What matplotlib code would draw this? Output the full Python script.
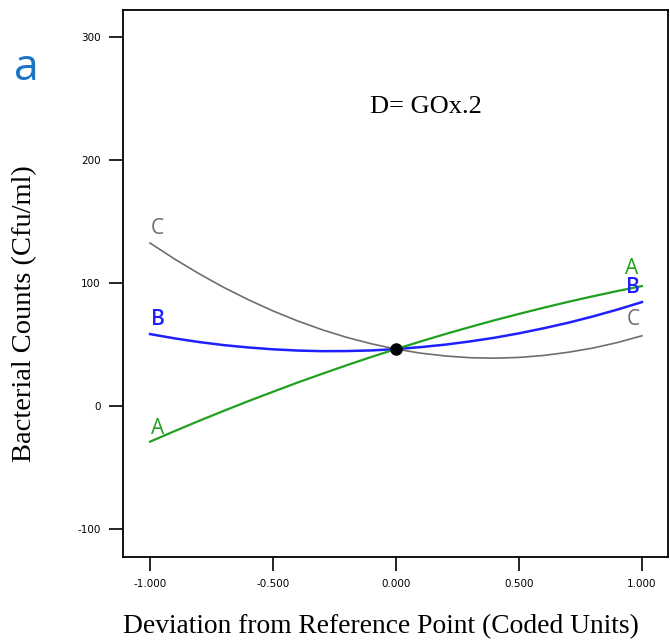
import matplotlib
matplotlib.use('Agg')
import matplotlib.pyplot as plt

plt.rcParams['axes.unicode_minus'] = False

# écart par rapport au point de référence (unités codées)
deviation = [-1.0, -0.9, -0.8, -0.7, -0.6, -0.5, -0.4, -0.3, -0.2, -0.1, 0.0,
             0.1, 0.2, 0.3, 0.4, 0.5, 0.6, 0.7, 0.8, 0.9, 1.0]

# comptages bactériens pour chaque facteur
counts_a = [-29.0, -20.4, -12.0, -3.9, 4.0, 11.6, 19.1, 26.2, 33.2, 39.9, 46.3,
            52.5, 58.5, 64.2, 69.7, 74.9, 79.9, 84.7, 89.2, 93.5, 97.5]
counts_b = [58.5, 55.0, 52.0, 49.5, 47.6, 46.1, 45.1, 44.6, 44.7, 45.2, 46.3,
            47.9, 49.9, 52.5, 55.5, 59.1, 63.2, 67.7, 72.8, 78.4, 84.5]
counts_c = [132.5, 119.5, 107.5, 96.4, 86.4, 77.3, 69.2, 62.0, 55.8, 50.6, 46.3,
            43.0, 40.7, 39.3, 38.9, 39.5, 41.1, 43.7, 47.1, 51.6, 57.1]

ref_point = (0.0, 46.3)

x_ticks = [-1.0, -0.5, 0.0, 0.5, 1.0]
x_tick_labels = ['-1.000', '-0.500', '0.000', '0.500', '1.000']
y_ticks = [-100, 0, 100, 200, 300]

green = '#1fa01f'
blue = '#1f1fff'
gray = '#6e6e6e'

fig = plt.figure(figsize=(6.7, 6.43), dpi=100)
ax = fig.add_axes([0.1836, 0.1337, 0.8134, 0.8507])

ax.plot(deviation, counts_c, color=gray, lw=1.2)
ax.plot(deviation, counts_b, color=blue, lw=1.8)
ax.plot(deviation, counts_a, color=green, lw=1.6)
ax.plot(*ref_point, 'o', color='black', markersize=8, zorder=5)

# étiquettes des courbes aux deux extrémités
lab = dict(fontsize=15, family='Open Sans', ha='center', va='center')
ax.text(-0.97, 144.7, 'C', color=gray, **lab)
ax.text(-0.97, 70.0, 'B', color=blue, fontweight='semibold', **lab)
ax.text(-0.97, -17.9, 'A', color=green, **lab)
ax.text(0.96, 112.0, 'A', color=green, **lab)
ax.text(0.965, 96.0, 'B', color=blue, fontweight='semibold', **lab)
ax.text(0.965, 70.0, 'C', color=gray, **lab)

ax.text(0.12, 243, 'D= GOx.2', fontsize=19, family='Liberation Serif',
        ha='center', va='center')

ax.set_xlim(-1.11, 1.106)
ax.set_ylim(-122.8, 322)
ax.set_xticks(x_ticks)
ax.set_xticklabels(x_tick_labels)
ax.set_yticks(y_ticks)
ax.tick_params(direction='out', length=10, width=1.2, labelsize=7.5, pad=6)
for s in ax.spines.values():
    s.set_linewidth(1.3)

fig.text(0.036, 0.513, 'Bacterial Counts (Cfu/ml)', rotation=90,
         fontsize=20.5, family='Liberation Serif', ha='center', va='center')
fig.text(0.569, 0.025, 'Deviation from Reference Point (Coded Units)',
         fontsize=19.8, family='Liberation Serif', ha='center', va='center')
fig.text(0.04, 0.893, 'a', fontsize=32, family='Open Sans', color='#1b75c4',
         ha='center', va='center')

fig.savefig('out.png', dpi=100)
